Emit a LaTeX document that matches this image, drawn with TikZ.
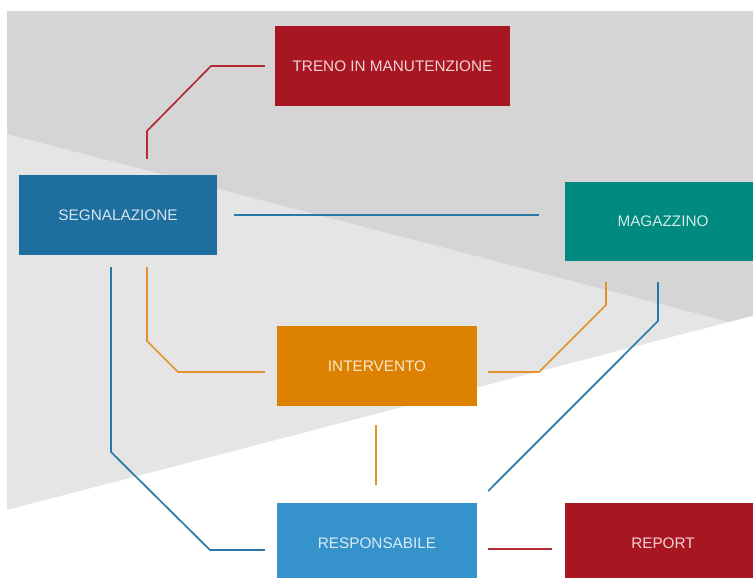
\documentclass[tikz,border=0pt]{standalone}
\usepackage{fontspec}
\setmainfont{Liberation Sans}
\usetikzlibrary{calc}
\definecolor{dgrey}{HTML}{D5D5D5}
\definecolor{lgrey}{HTML}{E5E5E5}
\definecolor{cred}{HTML}{A81622}
\definecolor{cblue}{HTML}{1E6FA0}
\definecolor{cteal}{HTML}{008A80}
\definecolor{corange}{HTML}{DD8200}
\definecolor{clblue}{HTML}{3592CA}
\definecolor{lred}{HTML}{B52A35}
\definecolor{lblue}{HTML}{2A78A8}
\definecolor{lorange}{HTML}{E2922A}
\tikzset{
  box/.style={rectangle, draw=none, minimum height=80pt, inner sep=0pt,
    text=white, text opacity=0.82, font=\fontsize{15.3}{18}\selectfont},
  conn/.style={line width=1.7pt, line cap=butt, line join=miter},
}
\begin{document}
\begin{tikzpicture}[x=1pt,y=-1pt]
\useasboundingbox (0,0) rectangle (753,578);
% background
\fill[white] (0,0) rectangle (753,578);
\fill[dgrey] (7,11) rectangle (760,578);
\fill[lgrey] (7,134) -- (760,330) -- (760,578) -- (7,578) -- cycle;
\fill[white] (7,510) -- (760,314) -- (760,590) -- (7,590) -- cycle;
% boxes
\node[box, fill=cred, minimum width=235pt] (treno) at (392.5,66) {TRENO IN MANUTENZIONE};
\node[box, fill=cblue, minimum width=198pt] (segn) at (118,215) {SEGNALAZIONE};
\node[box, fill=cteal, minimum width=196pt, minimum height=79pt] (mag) at (663,221.5) {MAGAZZINO};
\node[box, fill=corange, minimum width=200pt] (int) at (377,366) {INTERVENTO};
\node[box, fill=clblue, minimum width=200pt] (resp) at (377,543) {RESPONSABILE};
\node[box, fill=cred, minimum width=196pt] (rep) at (663,543) {REPORT};
% helper coordinates
\coordinate (m1) at ($(mag.west)+(-26,0)$);
% connectors
\draw[conn, lred] ($(segn.north)+(29,-16)$) -- (147,131) -- (211,66) -- ($(treno.west)+(-10,0)$);
\draw[conn, lblue] ($(segn.east)+(17,0)$) -- (m1 |- segn.east);
\draw[conn, lorange] ($(segn.south)+(29,12)$) -- (147,341) -- (178,372) -- ($(int.west)+(-12,6)$);
\draw[conn, lblue] ($(segn.south)+(-7,12)$) -- (111,452) -- (210,550) -- ($(resp.west)+(-12,7)$);
\draw[conn, lorange] ($(int.east)+(11,6)$) -- (539,372) -- (606,305) -- ($(mag.south)+(-57,21)$);
\draw[conn, lblue] ($(mag.south)+(-5,21)$) -- (658,321) -- ($(resp.east)+(11,-52)$);
\draw[conn, lorange] ($(int.south)+(-1,19)$) -- ($(resp.north)+(-1,-18)$);
\draw[conn, lred] ($(resp.east)+(11,6)$) -- ($(rep.west)+(-13,6)$);
\end{tikzpicture}
\end{document}
